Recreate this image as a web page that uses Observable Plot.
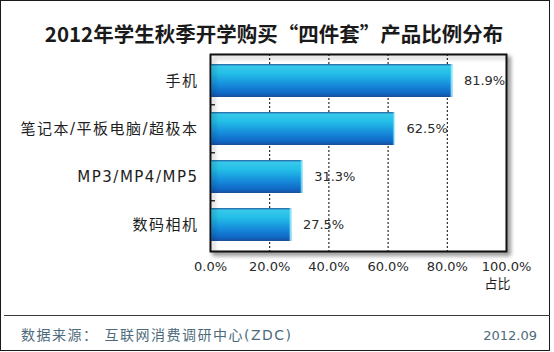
<!DOCTYPE html>
<html><head><meta charset="utf-8">
<script src="https://cdn.jsdelivr.net/npm/d3@7"></script>
<script src="https://cdn.jsdelivr.net/npm/@observablehq/plot@0.6"></script>
<style>
html,body{margin:0;padding:0;background:#fff;}
#wrap{position:relative;width:554px;height:352px;overflow:hidden;font-family:"DejaVu Sans","Noto Sans CJK SC",sans-serif;}
#border{position:absolute;left:0;top:0;width:548px;height:349px;border:1.5px solid #1a1a1a;}
#title{position:absolute;left:0;top:21px;width:548px;text-align:center;font-family:"Noto Sans CJK SC",sans-serif;font-weight:bold;font-size:20.5px;color:#1a1a1a;line-height:24px;}
#chart{position:absolute;left:0;top:45px;}
#sep{position:absolute;left:4px;top:315px;width:546px;height:0;border-top:1px solid #3a3a3a;}
#src{position:absolute;left:21px;top:326px;font-size:14px;letter-spacing:1.5px;color:#4d6b7c;line-height:18px;}
#date{position:absolute;right:17px;top:327px;font-size:13px;color:#4d6b7c;line-height:18px;}
#chart svg rect[aria-label=frame]{filter:drop-shadow(3px 3px 2px rgba(0,0,0,0.35));}
#chart svg g[aria-label="y-axis tick label"] text{letter-spacing:1.5px;}
</style></head>
<body>
<div id="wrap">
  <div id="border"></div>
  <div id="title">2012年学生秋季开学购买“四件套”产品比例分布</div>
  <div id="chart"></div>
  <div id="sep"></div>
  <div id="src">数据来源： 互联网消费调研中心(ZDC)</div>
  <div id="date">2012.09</div>
</div>
<script>
const categories = ["手机", "笔记本/平板电脑/超极本", "MP3/MP4/MP5", "数码相机"];
const shares = [0.819, 0.625, 0.313, 0.275];
const xTicks = [0, 0.2, 0.4, 0.6, 0.8, 1.0];
const xUnit = "占比";

const data = categories.map((c, i) => ({cat: c, v: shares[i]}));
const fmt = d3.format(".1%");

const W = 554, H = 250, mT = 9, mB = 44, mL = 210, mR = 48;
const pI = 0.31, pO = 0.19;
const step = (H - mT - mB) / (categories.length - pI + 2 * pO);

const plot = Plot.plot({
  width: W, height: H,
  marginTop: mT, marginBottom: mB, marginLeft: mL, marginRight: mR,
  style: {fontFamily: '"DejaVu Sans","Noto Sans CJK SC",sans-serif', background: "transparent", overflow: "visible"},
  x: {domain: [0, 1], ticks: xTicks, tickFormat: fmt},
  y: {domain: categories, paddingInner: pI, paddingOuter: pO},
  marks: [
    Plot.frame({fill: "white", stroke: "#111", strokeWidth: 1.6}),
    Plot.gridX(xTicks.slice(1, -1), {stroke: "#000", strokeOpacity: 1, strokeWidth: 1, strokeDasharray: "2,2"}),
    Plot.barX(data, {x: "v", y: "cat", fill: "url(#barGrad)"}),
    Plot.barX(data, {x1: d => d.v - 0.009, x2: "v", y: "cat", fill: "url(#barHi)"}),
    Plot.ruleY(categories.slice(1), {y: d => d, x1: 0, x2: 0.017, dy: -step / 2, stroke: "#000", strokeWidth: 1.2}),
    Plot.frame({stroke: "#111", strokeWidth: 1.6}),
    Plot.axisX({ticks: xTicks, tickFormat: fmt, tickSize: 0, tickPadding: 10, fontSize: 13, fill: "#2a2a2a", label: null}),
    Plot.axisY({tickSize: 0, tickPadding: 12, fontSize: 15, fill: "#1e1e1e", label: null}),
    Plot.text(data, {x: "v", y: "cat", text: d => fmt(d.v), textAnchor: "start", dx: 11, fontSize: 13, fill: "#2a2a2a"}),
    Plot.text([xUnit], {x: xTicks[xTicks.length - 1], frameAnchor: "bottom", text: d => d, dy: 36, dx: -9, fontSize: 13, fill: "#1e1e1e"})
  ]
});

const ns = "http://www.w3.org/2000/svg";
const defs = document.createElementNS(ns, "defs");
defs.innerHTML = `
<linearGradient id="barGrad" x1="0" y1="0" x2="0" y2="1">
  <stop offset="0" stop-color="#2a5fa6"/>
  <stop offset="0.07" stop-color="#36c9ea"/>
  <stop offset="0.3" stop-color="#22bde8"/>
  <stop offset="0.62" stop-color="#178ddc"/>
  <stop offset="0.9" stop-color="#0f66c4"/>
  <stop offset="1" stop-color="#1b4d94"/>
</linearGradient>
<linearGradient id="barHi" x1="0" y1="0" x2="1" y2="0">
  <stop offset="0" stop-color="#5fe0f5" stop-opacity="0"/>
  <stop offset="0.7" stop-color="#9cf0fb" stop-opacity="0.9"/>
  <stop offset="1" stop-color="#d8fbff" stop-opacity="1"/>
</linearGradient>`;
plot.insertBefore(defs, plot.firstChild);
document.getElementById("chart").appendChild(plot);
</script>
</body></html>
